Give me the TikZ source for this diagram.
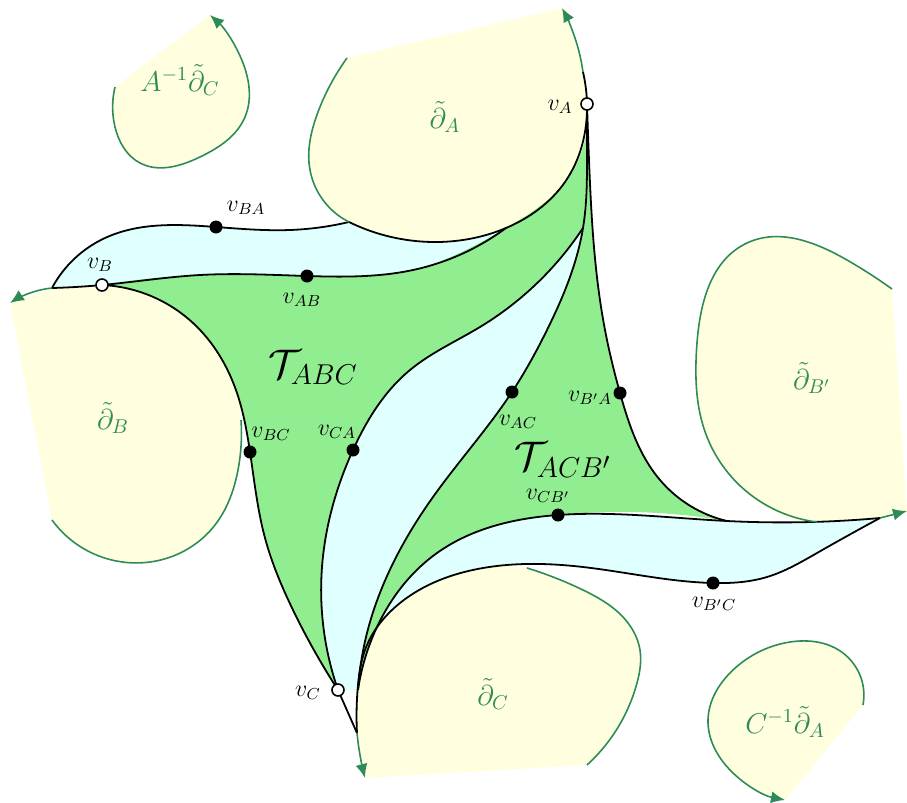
\documentclass[tikz,border=0pt]{standalone}
\usetikzlibrary{arrows.meta,hobby}
\definecolor{sea}{HTML}{2E8B57}
\definecolor{cuspfill}{HTML}{FFFFE0}
\definecolor{bandfill}{HTML}{E0FFFF}
\definecolor{trifill}{HTML}{90EE90}
\begin{document}
\begin{tikzpicture}[x=.5bp,y=-.5bp,use Hobby shortcut,line join=round,>={Latex[length=7bp,width=6bp]},
 edge/.style={line width=.9pt},rim/.style={draw=sea,line width=.8pt},
 dot/.style={circle,fill,inner sep=0pt,minimum size=6.5bp},
 hollow/.style={circle,draw,fill=white,line width=.8pt,inner sep=0pt,minimum size=6bp},
 lab/.style={font=\large},cusp/.style={text=sea,font=\Large},tri/.style={font=\huge}]
\useasboundingbox (0,0) rectangle (907,803);
\coordinate (vA) at (587,104);\coordinate (vB) at (102,285);\coordinate (vC) at (338,690);
\coordinate (vBA) at (216,227);\coordinate (vAB) at (307,276);\coordinate (vBC) at (250,452);\coordinate (vCA) at (353,450);
\coordinate (vAC) at (512,392);\coordinate (vBpA) at (620,393);\coordinate (vCBp) at (558,515);\coordinate (vBpC) at (713,583);
% cusp regions
\fill[cuspfill] (115,87) -- (210,15) .. (243,63) .. (245,117) .. (200,157) .. (140,163) .. (115,127) .. (115,87) -- cycle;
\fill[cuspfill] (347,58) -- (562,8) .. (583,72) .. (vA) .. (565,182) .. (506,228) .. (433,242) .. (349,222) -- (349,222) .. (310,170) .. (318,112) .. (347,58) -- cycle;
\fill[cuspfill] (10,303) -- (52,520) .. (150,562) .. (215,525) .. (241,450) .. (237,393) .. (193,323) .. (vB) -- (52,288) .. (10,303) -- cycle;
\fill[cuspfill] (892,289) -- (907,512) -- (880,518) .. (787,517) .. (707,437) .. (697,343) .. (747,243) .. (847,260) .. (892,289) -- cycle;
\fill[cuspfill] (587,765) -- (365,778) .. (357,733) .. (358,685) .. (380,622) .. (437,583) .. (483,568) .. (527,568) .. (583,590) .. (623,617) .. (640,650) .. (637,683) .. (587,765) -- cycle;
\fill[cuspfill] (863,705) -- (785,800) .. (730,770) .. (708,720) .. (733,670) .. (790,642) .. (843,653) .. (863,705) -- cycle;
% bands
\fill[bandfill] (52,288) .. (105,238) .. (vBA) .. (290,230) .. (349,222) -- (349,222) .. (433,242) .. (506,228) -- (506,228) .. (413,270) .. (vAB) .. (200,275) .. (vB) .. (52,288) -- cycle;
\fill[bandfill] (583,228) .. (480,327) .. (410,370) .. (vCA) .. (322,567) .. (vC) -- (358,690) .. (367,633) .. (433,497) .. (vAC) .. (570,280) .. (583,228) -- cycle;
\fill[bandfill] (358,690) .. (377,627) .. (437,553) .. (vCBp) .. (727,521) .. (880,518) -- (880,518) .. (817,553) .. (767,577) .. (vBpC) .. (583,567) .. (483,568) .. (400,603) .. (365,650) .. (358,685) -- cycle;
% triangles
\fill[trifill] (vB) .. (200,275) .. (vAB) .. (413,270) .. (506,228) .. (565,182) .. (vA) -- (vA) .. (587,150) .. (583,228) -- (583,228) .. (480,327) .. (410,370) .. (vCA) .. (322,567) .. (vC) -- (vC) .. (293,610) .. (265,538) .. (vBC) .. (237,393) .. (193,323) .. (vB) -- cycle;
\fill[trifill] (vA) .. (587,150) .. (583,228) .. (547,330) .. (vAC) .. (433,497) .. (367,633) .. (358,690) -- (358,690) .. (377,627) .. (437,553) .. (vCBp) .. (727,521) -- (727,521) .. (660,480) .. (vBpA) .. (605,330) .. (589,160) .. (vA) -- cycle;
% geodesics
\draw[edge] (52,288) .. (105,238) .. (vBA) .. (290,230) .. (349,222);
\draw[edge] (349,222) .. (433,242) .. (506,228) .. (565,182) .. (vA) .. (583,72);
\draw[edge] (52,288) .. (vB) .. (200,275) .. (vAB) .. (413,270) .. (506,228);
\draw[edge] (vA) .. (587,150) .. (583,228) .. (547,330) .. (vAC) .. (433,497) .. (367,633) .. (358,690);
\draw[edge] (583,228) .. (480,327) .. (410,370) .. (vCA) .. (322,567) .. (vC);
\draw[edge] (vB) .. (193,323) .. (237,393) .. (vBC) .. (265,538) .. (293,610) .. (vC);
\draw[edge] (vA) .. (589,160) .. (605,330) .. (vBpA) .. (660,480) .. (727,521);
\draw[edge] (358,690) .. (377,627) .. (437,553) .. (vCBp) .. (727,521) .. (880,518);
\draw[edge] (880,518) .. (817,553) .. (767,577) .. (vBpC) .. (583,567) .. (483,568) .. (400,603) .. (365,650) .. (358,685) .. (357,733);
\draw[edge] (vC) -- (357,733);
% horocycle arcs
\draw[rim,<-] (210,15) .. (243,63) .. (245,117) .. (200,157) .. (140,163) .. (115,127) .. (115,87);
\draw[rim,->] (583,72) .. (575,38) .. (562,8);
\draw[rim] (349,222) .. (310,170) .. (318,112) .. (347,58);
\draw[rim,->] (52,288) .. (30,293) .. (10,303);
\draw[rim] (241,420) .. (238,470) .. (215,525) .. (150,562) .. (52,520);
\draw[rim] (817,522) .. (707,437) .. (697,343) .. (747,243) .. (847,260) .. (892,289);
\draw[rim,->] (880,518) -- (907,511);
\draw[rim] (527,568) .. (583,590) .. (623,617) .. (640,650) .. (637,683) .. (587,765);
\draw[rim,->] (357,733) .. (360,755) .. (365,778);
\draw[rim,<-] (785,800) .. (730,770) .. (708,720) .. (733,670) .. (790,642) .. (843,653) .. (863,705);
% vertices
\node[hollow] (nA) at (vA) {};\node[hollow] (nB) at (vB) {};\node[hollow] (nC) at (vC) {};
\node[dot] (nBA) at (vBA) {};\node[dot] (nAB) at (vAB) {};\node[dot] (nBC) at (vBC) {};\node[dot] (nCA) at (vCA) {};
\node[dot] (nAC) at (vAC) {};\node[dot] (nBpA) at (vBpA) {};\node[dot] (nCBp) at (vCBp) {};\node[dot] (nBpC) at (vBpC) {};
\node[lab] (lA) at (560,107) {$v_A$};\node[lab] (lB) at (100,265) {$v_B$};\node[lab] (lC) at (308,693) {$v_C$};
\node[lab] (lBA) at (246,208) {$v_{BA}$};\node[lab] (lAB) at (302,300) {$v_{AB}$};\node[lab] (lBC) at (271,434) {$v_{BC}$};
\node[lab] (lCA) at (337,432) {$v_{CA}$};\node[lab] (lAC) at (518,422) {$v_{AC}$};\node[lab] (lBpA) at (590,398) {$v_{B'A}$};
\node[lab] (lCBp) at (548,496) {$v_{CB'}$};\node[lab] (lBpC) at (714,604) {$v_{B'C}$};
% labels
\node[cusp] (dA) at (445,117) {$\tilde\partial_A$};\node[cusp] (dAC) at (180,80) {$A^{-1}\tilde\partial_C$};
\node[cusp] (dB) at (113,418) {$\tilde\partial_B$};\node[cusp] (dBp) at (812,378) {$\tilde\partial_{B'}$};
\node[cusp] (dC) at (493,694) {$\tilde\partial_C$};\node[cusp] (dCA) at (785,722) {$C^{-1}\tilde\partial_A$};
\node[tri] (tABC) at (313,367) {$\mathcal{T}_{ABC}$};\node[tri] (tACB) at (563,460) {$\mathcal{T}_{ACB'}$};
\end{tikzpicture}
\end{document}
